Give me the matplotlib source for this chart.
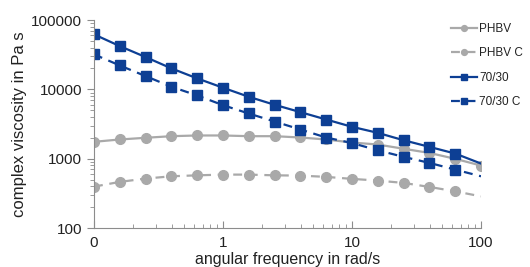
import numpy as np
import matplotlib.pyplot as plt
from matplotlib.ticker import FixedLocator, LogLocator, NullFormatter

plt.rcParams['font.family'] = ['Liberation Sans', 'DejaVu Sans']

# angular frequency in rad/s (0.2-decade steps)
freq = [0.1, 0.158, 0.251, 0.398, 0.631, 1.0, 1.58, 2.51, 3.98, 6.31,
        10.0, 15.8, 25.1, 39.8, 63.1, 100.0]

phbv = [1750, 1890, 2000, 2110, 2160, 2160, 2110, 2110, 2020, 1890,
        1710, 1600, 1390, 1210, 995, 795]
phbv_c = [395, 462, 516, 557, 575, 589, 589, 575, 570, 546,
          511, 483, 447, 391, 338, 286]
blend = [62100, 42100, 29200, 20050, 14370, 10550, 7820, 5990, 4690, 3670,
         2880, 2360, 1845, 1480, 1185, 850]
blend_c = [31950, 22150, 15520, 10900, 8160, 5910, 4485, 3435, 2634, 2018,
           1680, 1322, 1062, 869, 695, 557]

labels = ['PHBV', 'PHBV C', '70/30', '70/30 C']

grey = '#a9a9a9'
blue = '#0d3f94'

fig = plt.figure(figsize=(5.3, 2.67), dpi=100)
ax = fig.add_axes([94/530, 39/267, 387/530, 208/267])

ax.plot(freq, phbv, '-', color=grey, lw=1.6, marker='o', ms=7, label=labels[0])
ax.plot(freq, phbv_c, color=grey, lw=1.6, ls=(0, (4, 3)), marker='o', ms=7,
        markevery=list(range(15)), label=labels[1])
ax.plot(freq, blend, '-', color=blue, lw=1.6, marker='s', ms=6.5,
        markevery=list(range(15)), label=labels[2])
ax.plot(freq, blend_c, color=blue, lw=1.6, ls=(0, (4, 3)), marker='s', ms=6.5,
        markevery=list(range(15)), label=labels[3])

ax.set_xscale('log')
ax.set_yscale('log')
ax.set_xlim(0.1, 100)
ax.set_ylim(100, 100000)

ax.xaxis.set_major_locator(FixedLocator([0.1, 1, 10, 100]))
ax.set_xticklabels(['0', '1', '10', '100'])
ax.xaxis.set_minor_locator(LogLocator(base=10, subs=np.arange(2, 10)))
ax.xaxis.set_minor_formatter(NullFormatter())
ax.yaxis.set_major_locator(FixedLocator([100, 1000, 10000, 100000]))
ax.set_yticklabels(['100', '1000', '10000', '100000'])
ax.yaxis.set_minor_locator(LogLocator(base=10, subs=np.arange(2, 10)))
ax.yaxis.set_minor_formatter(NullFormatter())

for s in ['top', 'right']:
    ax.spines[s].set_visible(False)
for s in ['left', 'bottom']:
    ax.spines[s].set_color('#8c8c8c')
ax.tick_params(axis='x', which='both', direction='in', colors='#8c8c8c',
               labelcolor='#222222', labelsize=11, pad=6)
ax.tick_params(axis='y', which='both', direction='out', colors='#8c8c8c',
               labelcolor='#222222', labelsize=11)
ax.tick_params(which='major', length=5)
ax.tick_params(which='minor', length=3)

ax.set_xlabel('angular frequency in rad/s', fontsize=11.5, color='#222222', labelpad=1)
ax.set_ylabel('complex viscosity in Pa s', fontsize=12, color='#222222', labelpad=3)

fig.legend(loc='upper left', bbox_to_anchor=(444/530, 1 - 16/267), frameon=False,
           fontsize=8.5, markerscale=0.6, handlelength=2.2, handletextpad=0.2,
           labelspacing=1.05, labelcolor='#222222', borderaxespad=0.2)

fig.savefig('out.png', dpi=100)
